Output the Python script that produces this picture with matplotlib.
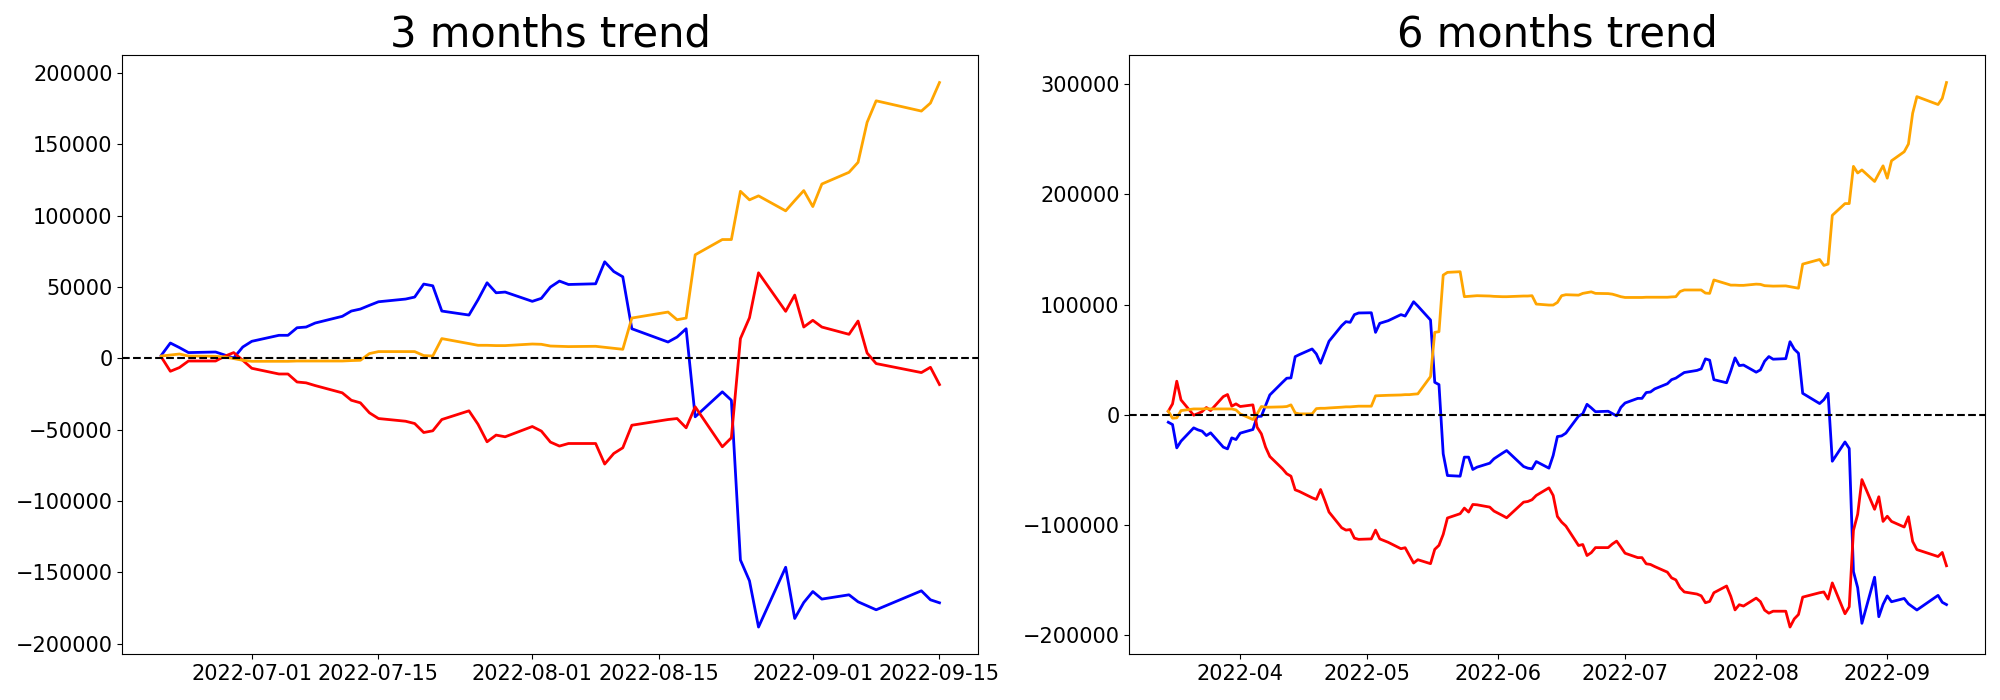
import numpy as np
import pandas as pd
import matplotlib
matplotlib.use("Agg")
import matplotlib.pyplot as plt
import matplotlib.dates as mdates

# Korean trading days (KRX holidays removed)
holidays = ["2022-05-05", "2022-06-01", "2022-06-06", "2022-08-15", "2022-09-09", "2022-09-12"]
dates_6m = pd.bdate_range("2022-03-15", "2022-09-15")
dates_6m = dates_6m[~dates_6m.isin(pd.to_datetime(holidays))]
dates_3m = dates_6m[dates_6m >= pd.Timestamp("2022-06-21")]

# ---------------- 3 months trend ----------------
blue_3m = [2100, 10700, 7500, 4000, 4400, 2300, 200, 7900, 11900, 16100,
           16100, 21400, 21900, 24700, 29400, 33100, 34500, 37100, 39600, 41500,
           42900, 52000, 50800, 33100, 30300, 41000, 52900, 45900, 46400, 39900,
           42000, 49900, 54100, 51700, 52200, 67600, 60800, 57100, 20700, 11400,
           14900, 20700, -41000, -23500, -29400, -141300, -155900, -188300, -146400, -182300,
           -171100, -163400, -168700, -165700, -170600, -173400, -176200, -162900, -169200, -171300]
red_3m = [900, -9100, -6500, -1900, -1900, 1400, 4000, -1400, -7000, -11000,
          -11000, -16600, -17200, -19100, -24200, -29400, -31200, -38200, -42200, -44100,
          -45700, -52000, -50800, -42900, -36800, -46200, -58500, -53800, -55000, -47800,
          -51000, -58700, -61500, -59700, -59700, -74100, -66700, -62700, -46900, -42900,
          -42200, -48700, -34000, -62000, -55700, 13800, 28400, 59900, 32900, 44300,
          21900, 26600, 21900, 16800, 26100, 3700, -3700, -10000, -6300, -18400]
orange_3m = [1600, 2300, 3000, 1600, 1400, 900, -200, -1400, -2100, -2100,
             -2100, -1900, -1900, -1900, -1900, -1600, -1400, 3300, 4700, 4700,
             4700, 1900, 1600, 13800, 10300, 9100, 9100, 8900, 8900, 10000,
             9800, 8600, 8400, 8200, 8400, 7700, 7000, 6300, 28200, 32400,
             27000, 28200, 72500, 83200, 83200, 117000, 111000, 113800, 103300, 110500,
             117500, 106300, 122100, 130300, 137300, 165300, 180400, 173200, 178800, 193200]

# ---------------- 6 months trend ----------------
blue_6m = [-7000, -9100, -30300, -24200, -12100, -13900, -15100, -19100, -16600, -29600,
           -31200, -21200, -22700,
           -16900, -13600, -1800, -1500, 8200, 17800, 29300, 33000, 33300, 52600,
           54500, 59600, 55100, 46600, 56600, 66600, 80800, 84400, 83800, 90800, 92300,
           92500, 74700, 82900, 85300, 90800, 89500, 95900, 102500, 98600, 85900,
           29300, 27200, -35700, -55400, -56000, -38700, -38700, -49900, -47800, -44200, -40200,
           -35100, -32700, -47200, -48700, -49300, -42700, -48700, -37200, -20000, -19400,
           -16900, -1400,
           700, 9300, 6100, 2600, 3000, 900, -1200, 6500, 10500, 14700,
           14700, 20000, 20500, 23300, 28000, 31700, 33100, 35700, 38200, 40100,
           41500, 50600, 49400, 31700, 28900, 39600, 51500, 44500, 45000, 38500,
           40600, 48500, 52700, 50300, 50800, 66200, 59400, 55700, 19300, 10000,
           13500, 19300, -42400, -24900, -30800, -142700, -157300, -189700, -147800, -183700,
           -172500, -164800, -170100, -167100, -172000, -174800, -177600, -164300, -170600, -172700]
red_6m = [3000, 9700, 30300, 13300, -600, 900, 2700, 6400, 3600, 16300,
          18200, 7600, 9700,
          7300, 8800, -11500, -17500, -29600, -38100, -49300, -53800, -56000, -68400,
          -69900, -75600, -77100, -68100, -78000, -88600, -102900, -105000, -104500, -112300, -113400,
          -113000, -105000, -113000, -116100, -121900, -121000, -128000, -134900, -131900, -135500,
          -122500, -118800, -108900, -94000, -90100, -85000, -88600, -81700, -82000, -84100, -87700,
          -91700, -93800, -79600, -79000, -77400, -73500, -66600, -73500, -92600, -97700,
          -101300, -119000,
          -118100, -128100, -125500, -120900, -120900, -117600, -115000, -120400, -126000, -130000,
          -130000, -135600, -136200, -138100, -143200, -148400, -150200, -157200, -161200, -163100,
          -164700, -171000, -169800, -161900, -155800, -165200, -177500, -172800, -174000, -166800,
          -170000, -177700, -180500, -178700, -178700, -193100, -185700, -181700, -165900, -161900,
          -161200, -167700, -153000, -181000, -174700, -105200, -90600, -59100, -86100, -74700,
          -97100, -92400, -97100, -102200, -92900, -115300, -122700, -129000, -125300, -137400]
orange_6m = [3000, -3300, -3000, 3600, 5100, 5100, 5100, 5400, 5100, 5100,
             5100, 5100, 4200,
             600, -4500, 600, 7300, 6700, 6700, 7000, 7300, 8800, 1500,
             600, 600, 5400, 5700, 5700, 6000, 6700, 7000, 7000, 7300, 7600,
             7600, 17000, 17200, 17500, 17800, 18100, 18100, 18500, 18800, 34500,
             74700, 75300, 126700, 129200, 129800, 107100, 107400, 107700, 108000, 107700, 107400,
             107100, 107100, 107700, 107700, 108000, 100400, 99500, 99500, 101900, 108000,
             108900, 108500,
             110100, 110800, 111500, 110100, 109900, 109400, 108300, 107100, 106400, 106400,
             106400, 106600, 106600, 106600, 106600, 106900, 107100, 111800, 113200, 113200,
             113200, 110400, 110100, 122300, 118800, 117600, 117600, 117400, 117400, 118500,
             118300, 117100, 116900, 116700, 116900, 116200, 115500, 114800, 136700, 140900,
             135500, 136700, 181000, 191700, 191700, 225500, 219500, 222300, 211800, 219000,
             226000, 214800, 230600, 238800, 245800, 273800, 288900, 281700, 287300, 301700]

titles = ["3 months trend", "6 months trend"]

fig, axes = plt.subplots(1, 2, figsize=(20, 7), dpi=100)
fig.subplots_adjust(left=0.0612, right=0.9927, bottom=0.0653, top=0.921, wspace=0.1764)

panels = [
    (dates_3m, blue_3m, red_3m, orange_3m),
    (dates_6m, blue_6m, red_6m, orange_6m),
]
for ax, (d, b, r, o), title in zip(axes, panels, titles):
    ax.plot(d, b, color="blue", lw=2)
    ax.plot(d, r, color="red", lw=2)
    ax.plot(d, o, color="orange", lw=2)
    ax.axhline(0, color="black", linestyle="--", lw=1.5)
    ax.set_title(title, fontsize=30)
    ax.tick_params(labelsize=15)

axes[0].xaxis.set_major_locator(mdates.DayLocator(bymonthday=[1, 15]))
axes[0].xaxis.set_major_formatter(mdates.DateFormatter("%Y-%m-%d"))
axes[1].xaxis.set_major_locator(mdates.MonthLocator())
axes[1].xaxis.set_major_formatter(mdates.DateFormatter("%Y-%m"))

fig.savefig("out.png", dpi=100)
